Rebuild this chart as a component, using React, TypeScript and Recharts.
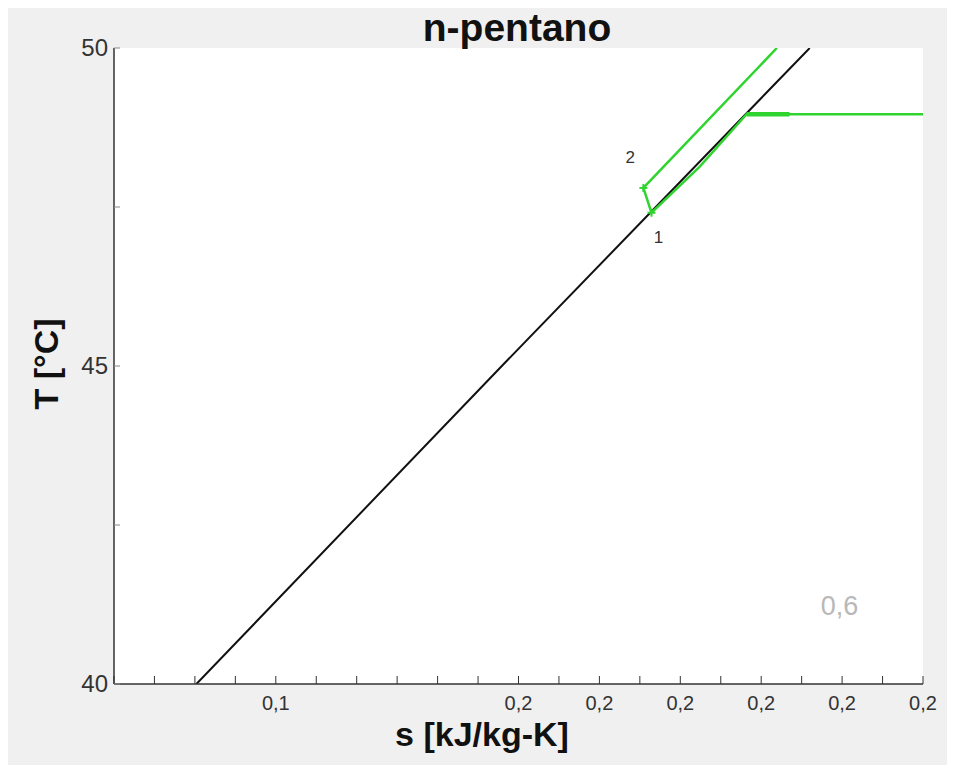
import { ComposedChart, Line, Scatter, XAxis, YAxis, CartesianGrid } from "recharts";

// saturated liquid line (s in kJ/kg-K, T in °C)
const satS = [0.0963, 0.1567, 0.2176];
const satT = [40, 45, 50];

// cycle path: condenser outlet → pump → evaporator
const cycleS = [0.24, 0.2051, 0.1958, 0.1863, 0.1847, 0.2111];
const cycleT = [48.96, 48.96, 48.13, 47.41, 47.8, 50];

// heavier stretch right after the corner
const boilS = [0.2051, 0.2136];
const boilT = [48.96, 48.96];

// state points
const stateS = [0.1863, 0.1847];
const stateT = [47.41, 47.8];
const stateNames = ["1", "2"];
const stateLabelS = [0.1877, 0.1821];
const stateLabelT = [47.03, 48.29];

// quality iso-line tag
const qualityS = [0.2235];
const qualityT = [41.24];
const qualityText = ["0,6"];

const sTicks = [
  0.08, 0.088, 0.096, 0.104, 0.112, 0.12, 0.128, 0.136, 0.144, 0.152, 0.16,
  0.168, 0.176, 0.184, 0.192, 0.2, 0.208, 0.216, 0.224, 0.232, 0.24,
];
const sTickLabels = [
  "", "", "", "", "0,1", "", "", "", "", "", "0,2",
  "", "0,2", "", "0,2", "", "0,2", "", "0,2", "", "0,2",
];
const tTicks = [40, 42.5, 45, 47.5, 50];
const tTickLabels = ["40", "", "45", "", "50"];

const toPoints = (s: number[], t: number[]) => s.map((v, i) => ({ s: v, T: t[i] }));

const satLine = toPoints(satS, satT);
const cycleLine = toPoints(cycleS, cycleT);
const boilLine = toPoints(boilS, boilT);
const statePoints = toPoints(stateS, stateT);
const stateLabels = stateLabelS.map((v, i) => ({ s: v, T: stateLabelT[i], text: stateNames[i] }));
const qualityLabels = qualityS.map((v, i) => ({ s: v, T: qualityT[i], text: qualityText[i] }));

const FONT = '"Liberation Sans", Arial, sans-serif';
const GREEN = "#2fd42f";
const AXIS = "#333";

const BottomTick = (props: any) => {
  const { x, y, index } = props;
  return (
    <g>
      <line x1={x} x2={x} y1={y} y2={y - 8} stroke={AXIS} strokeWidth={1} />
      <text x={x} y={y + 26} textAnchor="middle" fontSize={20} fill={AXIS} fontFamily={FONT}>
        {sTickLabels[index]}
      </text>
    </g>
  );
};

const TopTick = (props: any) => {
  const { x, y } = props;
  return <line x1={x} x2={x} y1={y} y2={y + 8} stroke={AXIS} strokeWidth={1} />;
};

const LeftTick = (props: any) => {
  const { x, y, index } = props;
  return (
    <g>
      <line x1={x} x2={x + 6} y1={y} y2={y} stroke="#888" strokeWidth={1} />
      <text x={x - 6} y={y + 8} textAnchor="end" fontSize={24} fill={AXIS} fontFamily={FONT}>
        {tTickLabels[index]}
      </text>
    </g>
  );
};

const StateMark = (props: any) => {
  const { cx, cy } = props;
  return (
    <g stroke={GREEN} strokeWidth={2}>
      <line x1={cx - 4} x2={cx + 4} y1={cy} y2={cy} />
      <line x1={cx} x2={cx} y1={cy - 4} y2={cy + 4} />
    </g>
  );
};

const TextMark = (size: number, color: string) => (props: any) => {
  const { cx, cy, payload } = props;
  return (
    <text x={cx} y={cy + size * 0.36} textAnchor="middle" fontSize={size} fill={color} fontFamily={FONT}>
      {payload.text}
    </text>
  );
};

export default function App() {
  return (
    <div style={{ position: "relative", width: 947, height: 757, background: "#f0f0f0", fontFamily: FONT }}>
      <ComposedChart width={947} height={757} margin={{ top: 40, right: 32, left: 46, bottom: 41 }}>
        <CartesianGrid fill="#ffffff" horizontal={false} vertical={false} />
        <XAxis
          dataKey="s"
          type="number"
          domain={[0.08, 0.24]}
          ticks={sTicks}
          interval={0}
          height={40}
          tickSize={0}
          tickMargin={0}
          tick={<BottomTick />}
          axisLine={{ stroke: AXIS, strokeWidth: 1.5 }}
          allowDataOverflow
        />
        <XAxis
          xAxisId="top"
          orientation="top"
          type="number"
          domain={[0.08, 0.24]}
          ticks={sTicks}
          interval={0}
          height={0}
          tickSize={0}
          tickMargin={0}
          tick={<TopTick />}
          axisLine={{ stroke: AXIS, strokeWidth: 1.5 }}
          allowDataOverflow
        />
        <YAxis
          dataKey="T"
          type="number"
          domain={[40, 50]}
          ticks={tTicks}
          interval={0}
          width={60}
          tickSize={0}
          tickMargin={0}
          tick={<LeftTick />}
          axisLine={{ stroke: AXIS, strokeWidth: 1.5 }}
          allowDataOverflow
        />
        <YAxis
          yAxisId="right"
          orientation="right"
          type="number"
          domain={[40, 50]}
          width={0}
          tick={false}
          tickLine={false}
          axisLine={{ stroke: AXIS, strokeWidth: 1.5 }}
        />
        <Line data={satLine} dataKey="T" stroke="#111" strokeWidth={2} dot={false} isAnimationActive={false} />
        <Line data={cycleLine} dataKey="T" stroke={GREEN} strokeWidth={2.5} dot={false} isAnimationActive={false} />
        <Line data={boilLine} dataKey="T" stroke={GREEN} strokeWidth={4.5} dot={false} isAnimationActive={false} />
        <Scatter data={statePoints} dataKey="T" shape={<StateMark />} isAnimationActive={false} />
        <Scatter data={stateLabels} dataKey="T" shape={TextMark(17, "#333")} isAnimationActive={false} />
        <Scatter data={qualityLabels} dataKey="T" shape={TextMark(27, "#b8b8b8")} isAnimationActive={false} />
      </ComposedChart>
      <svg
        width={947}
        height={757}
        style={{ position: "absolute", left: 0, top: 0, pointerEvents: "none", overflow: "visible" }}
      >
        <text x={509} y={33} textAnchor="middle" fontSize={39} fontWeight="bold" fill="#111" fontFamily={FONT}>
          n-pentano
        </text>
        <text x={474} y={738} textAnchor="middle" fontSize={34} fontWeight="bold" fill="#111" fontFamily={FONT}>
          s [kJ/kg-K]
        </text>
        <text
          transform="translate(50, 356) rotate(-90)"
          textAnchor="middle"
          fontSize={34}
          fontWeight="bold"
          fill="#111"
          fontFamily={FONT}
        >
          T [°C]
        </text>
      </svg>
    </div>
  );
}
